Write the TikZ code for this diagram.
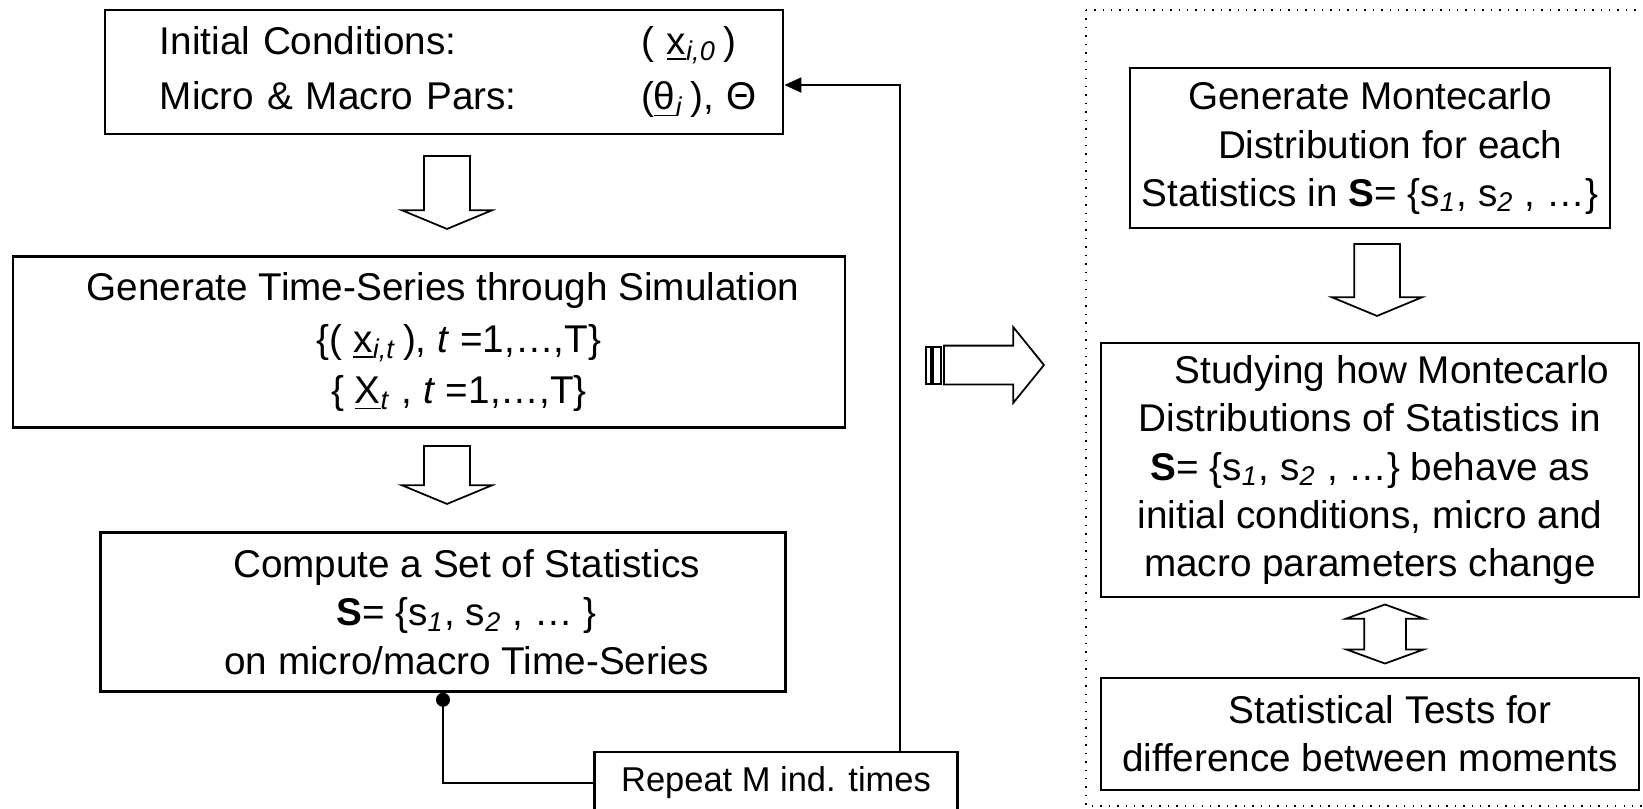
\documentclass[tikz,border=0pt]{standalone}
\usepackage{fontspec}
\setmainfont{Liberation Sans}
\usetikzlibrary{shapes.arrows,arrows.meta}

\begin{document}
\begin{tikzpicture}[x=0.01cm,y=-0.01cm,
    box/.style={draw,line width=0.7pt,align=center,inner sep=0pt,font=\fontsize{11}{13.7}\selectfont},
    hollow/.style={draw,line width=0.5pt,single arrow,inner xsep=0pt,inner ysep=0.22cm,single arrow head extend=0.22cm,single arrow tip angle=135,anchor=tail}]
  \clip (0,0) rectangle (1643,808);
  \draw[dotted,line width=0.4pt] (1086,10) rectangle (1700,806);
  \node[box,minimum width=6.78cm,minimum height=1.24cm,text width=5.68cm,align=left,font=\fontsize{11}{15.9}\selectfont] (init) at (444,72)
    {\makebox[4.81cm][l]{Initial Conditions:}\makebox[0pt][l]{( \underline{x}\textsubscript{\textit{i,0}}\,)}\\
     \makebox[4.81cm][l]{Micro \& Macro Pars:}\makebox[0pt][l]{(\underline{θ}\textsubscript{\textit{i}}\,), Θ}};
  \node[box,minimum width=8.32cm,minimum height=1.71cm,font=\fontsize{11}{14.6}\selectfont] (sim) at (429,342)
    {\hspace*{0.28cm}Generate Time-Series through Simulation\\
     \hspace*{0.6cm}\{( \underline{x}\textsubscript{\textit{i,t}}\,), \textit{t} =1,…,T\}\\
     \hspace*{0.6cm}\{ \underline{X}\textsubscript{\textit{t}} , \textit{t} =1,…,T\}};
  \node[box,minimum width=6.85cm,minimum height=1.59cm] (stats) at (443,612)
    {\hspace*{0.47cm}Compute a Set of Statistics\\
     \hspace*{0.47cm}\textbf{S}= \{s\textsubscript{\textit{1}}, s\textsubscript{\textit{2}} , … \}\\
     \hspace*{0.47cm}on micro/macro Time-Series};
  \node[box,minimum width=3.63cm,minimum height=0.62cm,font=\fontsize{9.8}{12}\selectfont] (rep) at (776,783) {Repeat M ind. times};
  \node[box,minimum width=4.80cm,minimum height=1.60cm] (mcdist) at (1370,148)
    {Generate Montecarlo\\
     \hspace*{0.4cm}Distribution for each\\
     Statistics in \textbf{S}= \{s\textsubscript{\textit{1}}, s\textsubscript{\textit{2}} , …\}};
  \node[box,minimum width=5.38cm,minimum height=2.54cm] (study) at (1370,470)
    {\hspace*{0.44cm}Studying how Montecarlo\\
     Distributions of Statistics in\\
     \textbf{S}= \{s\textsubscript{\textit{1}}, s\textsubscript{\textit{2}} , …\} behave as\\
     initial conditions, micro and\\
     macro parameters change};
  \node[box,minimum width=5.38cm,minimum height=1.12cm] (tests) at (1370,734)
    {\hspace*{0.4cm}Statistical Tests for\\
     difference between moments};
  \node[hollow,rotate=-90,minimum height=0.73cm] (down1) at (447,155) {};
  \node[hollow,rotate=-90,minimum height=0.58cm] (down2) at (447,445) {};
  \node[hollow,rotate=-90,minimum height=0.72cm] (down3) at (1377,243) {};
  \node[hollow,minimum height=1.0cm,inner ysep=0.185cm,single arrow head extend=0.185cm,single arrow tip angle=102] (go) at (943,365) {};
  \draw[line width=0.5pt] (926,347) rectangle (931,384);
  \draw[line width=0.5pt] (933,347) rectangle (941,384);
  \node[draw,line width=0.5pt,double arrow,inner xsep=0pt,inner ysep=0.2cm,double arrow head extend=0.18cm,double arrow tip angle=140,minimum height=0.59cm,rotate=90] (both) at (1385,634) {};
  \coordinate (loop) at (900,85);
  \draw[line width=0.6pt,-{Triangle[length=0.17cm,width=0.15cm]}] (rep.north -| loop) -- (loop) -- (init.east |- loop);
  \draw[line width=0.6pt,{Circle[length=0.14cm]}-] (stats.south) |- (rep.west);
\end{tikzpicture}
\end{document}
